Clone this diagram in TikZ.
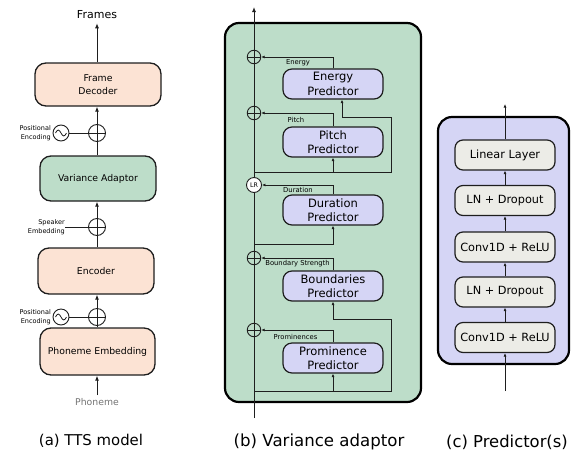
\documentclass[tikz,border=0pt]{standalone}
\usepackage{fontspec}
\setmainfont{DejaVu Sans}
\usetikzlibrary{arrows.meta}

\definecolor{peach}{RGB}{252,227,212}
\definecolor{sage}{RGB}{189,221,201}
\definecolor{lav}{RGB}{213,213,245}
\definecolor{pale}{RGB}{236,236,231}
\definecolor{ink}{RGB}{30,30,30}

\tikzset{
  wire/.style={draw=ink, line width=0.9pt},
  arr/.style={wire, -{Latex[length=5pt,width=4pt]}},
  arrs/.style={wire, -{Latex[length=3.5pt,width=3pt]}},
  blockA/.style={draw=ink, line width=1.3pt, rounded corners=11pt, align=center,
    inner sep=0pt, font=\fontsize{9.3}{13}\selectfont},
  predbox/.style={draw=ink, line width=1.2pt, rounded corners=9pt, fill=lav, align=center,
    inner sep=0pt, minimum width=100pt, minimum height=30pt,
    font=\fontsize{11.5}{14.5}\selectfont},
  layerbox/.style={draw=ink, line width=1.2pt, rounded corners=8pt, fill=pale, align=center,
    inner sep=0pt, minimum width=100pt, minimum height=30pt,
    font=\fontsize{11.3}{13}\selectfont},
  panel/.style={draw=black, line width=2.2pt, rounded corners=14pt},
  plusnode/.style={circle, draw=ink, line width=0.9pt, minimum size=#1, inner sep=0pt,
    path picture={
      \draw[ink, line width=0.8pt] (path picture bounding box.north) -- (path picture bounding box.south)
        (path picture bounding box.west) -- (path picture bounding box.east);}},
  sinenode/.style={circle, draw=ink, line width=0.9pt, minimum size=16pt, inner sep=0pt,
    path picture={
      \draw[ink, line width=0.8pt] ([xshift=-5.5pt]path picture bounding box.center)
        sin ++(2.75pt,3pt) cos ++(2.75pt,-3pt) sin ++(2.75pt,-3pt) cos ++(2.75pt,3pt);}},
  smalltxt/.style={font=\fontsize{6.5}{9}\selectfont, align=right, inner sep=0pt},
  tag/.style={font=\fontsize{6.8}{8}\selectfont, inner sep=0pt},
  caption/.style={inner sep=0pt}
}

\begin{document}
\begin{tikzpicture}[x=1pt, y=-1pt]
\useasboundingbox (0,0) rectangle (572,453);

% ---------------- (a) TTS model ----------------
\node[font=\fontsize{11}{13}\selectfont, inner sep=0pt] (frames) at (97,15) {Frames};
\node[blockA, fill=peach, minimum width=126pt, minimum height=43pt] (dec) at (98,84.5) {Frame\\Decoder};
\node[plusnode=17pt] (plusA) at (97,133) {};
\node[sinenode] (sineA) at (61,133) {};
\node[smalltxt, anchor=east] (posA) at (51,133) {Positional\\Encoding};
\node[blockA, fill=sage, minimum width=116pt, minimum height=45pt] (va) at (98,178.5) {Variance Adaptor};
\node[plusnode=17pt] (plusB) at (97,227) {};
\node[smalltxt, anchor=east] (spk) at (65,227) {Speaker\\Embedding};
\node[blockA, fill=peach, minimum width=116pt, minimum height=46pt] (enc) at (96,271) {Encoder};
\node[plusnode=17pt] (plusC) at (97,317) {};
\node[sinenode] (sineC) at (61,317) {};
\node[smalltxt, anchor=east] (posC) at (51,317) {Positional\\Encoding};
\node[blockA, fill=peach, minimum width=115pt, minimum height=47pt] (pe) at (97.5,351.5) {Phoneme Embedding};
\node[font=\fontsize{9.3}{11}\selectfont, text=black!55, inner sep=0pt] (phon) at (97,402) {Phoneme};
\node[caption, font=\fontsize{14.9}{17}\selectfont] (capA) at (91,441) {(a) TTS model};

\draw[arr] (phon.north) ++(0,-3) coordinate (phin) (phin) -- (pe.south -| phin);
\draw[arr] (pe.north -| plusC) -- (enc.south -| plusC);
\draw[wire] (sineC) -- (plusC);
\draw[arr] (enc.north -| plusB) -- (va.south -| plusB);
\draw[wire] (spk.east) -- (plusB);
\draw[arr] (va.north -| plusA) -- (dec.south -| plusA);
\draw[wire] (sineA) -- (plusA);
\draw[arr] (dec.north -| frames) -- ([yshift=-4pt]frames.south);

% ---------------- (b) Variance adaptor ----------------
\draw[panel, fill=sage] (225,23) rectangle (421,402);
\coordinate (mainIn) at (254,418);
\coordinate (mainOut) at (254,7);
\coordinate (tapD) at (254,244);
\coordinate (tapP) at (254,172);
\coordinate (tapPr) at (254,391);
\draw[arr] (mainIn) -- (mainOut);

\node[plusnode=13.5pt, fill=sage] (plusE) at (254,57) {};
\node[plusnode=13.5pt, fill=sage] (plusP) at (254,113) {};
\node[circle, draw=ink, line width=0.9pt, fill=white, minimum size=15pt, inner sep=0pt,
      font=\fontsize{6.3}{7}\selectfont] (lr) at (254,185) {LR};
\node[plusnode=13.5pt, fill=sage] (plusBs) at (254,258) {};
\node[plusnode=13.5pt, fill=sage] (plusPr) at (254,330) {};

\node[predbox] (energy) at (333,84) {Energy\\Predictor};
\node[predbox] (pitch) at (333,142) {Pitch\\Predictor};
\node[predbox] (duration) at (333,210) {Duration\\Predictor};
\node[predbox] (bound) at (333,286) {Boundaries\\Predictor};
\node[predbox] (prom) at (333,358) {Prominence\\Predictor};

% predictor outputs added to the hidden sequence
\draw[arrs] (energy.north) |- (plusE.east);
\draw[arrs] (pitch.north) |- (plusP.east);
\draw[arrs] (duration.north) |- (lr.east);
\draw[arrs] (bound.north) |- (plusBs.east);
\draw[arrs] (prom.north) |- (plusPr.east);

\node[tag] at (298,63) {Energy};
\node[tag] at (296,120) {Pitch};
\node[tag] at (298,189.5) {Duration};
\node[tag] at (297.5,264) {Boundary Strength};
\node[tag] at (295.5,337) {Prominences};

% predictor inputs tapped from the hidden sequence
\draw[arrs] (tapD) -| (duration.south);
\draw[wire] (tapP) -- (391,172) -- (391,117) -- (342,117);
\draw[arrs] (342,117) -- (energy.south -| 342,0);
\draw[arrs] (tapP -| pitch.south) -- (pitch.south);
\draw[wire] (tapPr) -- (391,391) -- (391,319) -- (333,319);
\draw[arrs] (bound.south |- 0,319) -- (bound.south);
\draw[arrs] (tapPr -| prom.south) -- (prom.south);

\node[caption, font=\fontsize{16.6}{19}\selectfont] (capB) at (319,442) {(b) Variance adaptor};

% ---------------- (c) Predictor(s) ----------------
\draw[panel, fill=lav] (438,117) rectangle (569,364);
\node[layerbox] (lin) at (505,155) {Linear Layer};
\node[layerbox] (ln1) at (505,200.5) {LN + Dropout};
\node[layerbox] (cv1) at (505,247) {Conv1D + ReLU};
\node[layerbox] (ln2) at (505,292) {LN + Dropout};
\node[layerbox] (cv2) at (505,337.5) {Conv1D + ReLU};
\coordinate (predIn) at (505,391);
\coordinate (predOut) at (505,104);
\draw[arrs] (predIn) -- (cv2.south);
\draw[arrs] (cv2.north) -- (ln2.south);
\draw[arrs] (ln2.north) -- (cv1.south);
\draw[arrs] (cv1.north) -- (ln1.south);
\draw[arrs] (ln1.north) -- (lin.south);
\draw[arrs] (lin.north) -- (predOut);

\node[caption, font=\fontsize{16.4}{19}\selectfont] (capC) at (507,442) {(c) Predictor(s)};
\end{tikzpicture}
\end{document}
